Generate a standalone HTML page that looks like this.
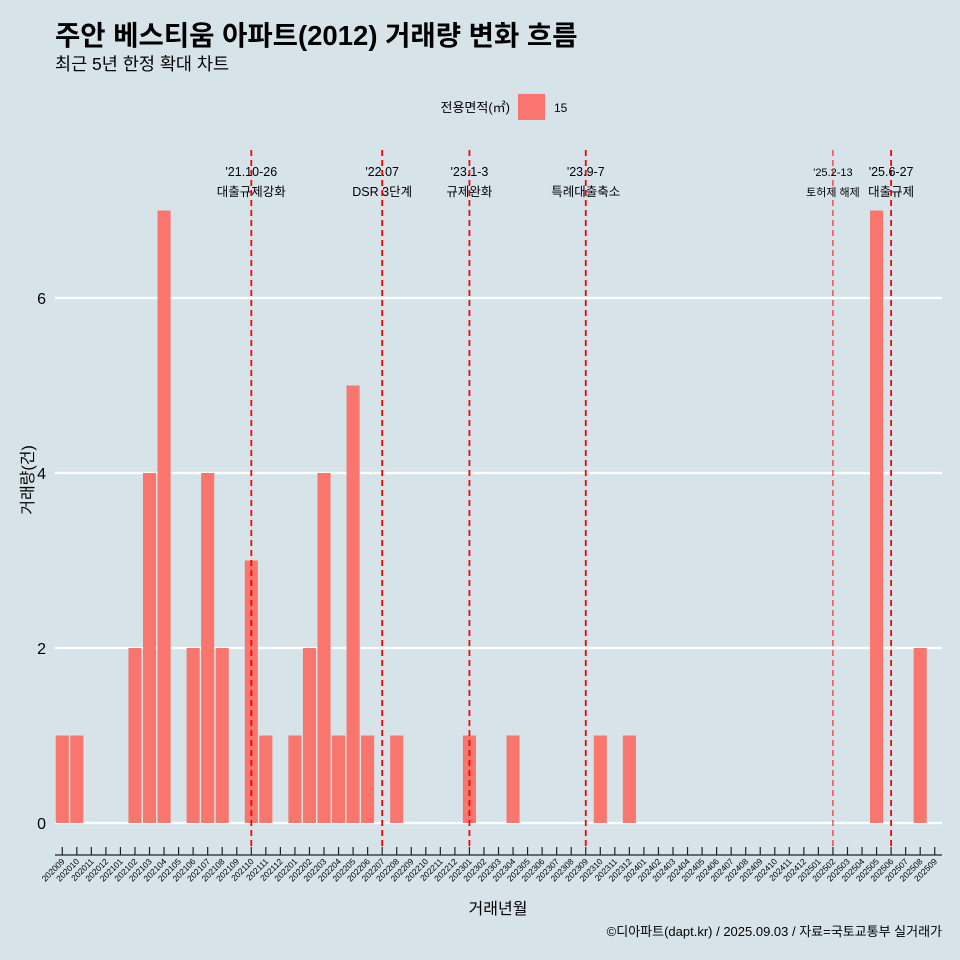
<!DOCTYPE html>
<html><head><meta charset="utf-8"><style>
body{margin:0;background:#d6e4ea;}
svg{display:block;font-family:"Liberation Sans","Noto Sans CJK KR",sans-serif;}
</style></head><body>
<svg id="c" width="960" height="960" viewBox="0 0 960 960">
<rect width="960" height="960" fill="#d6e4ea"/>
<text x="55" y="45" font-size="27.5" font-weight="bold" fill="#000">주안 베스티움 아파트(2012) 거래량 변화 흐름</text>
<text x="55" y="70" font-size="17.5" fill="#000">최근 5년 한정 확대 차트</text>
<g>
<text x="510" y="112" font-size="13" text-anchor="end">전용면적(㎡)</text>
<rect x="518" y="94" width="27" height="26" fill="#f8766d"/>
<text x="554" y="112" font-size="12">15</text>
</g>
<g id="grid"></g><g id="bars"></g><g id="events"></g><g id="xaxis"></g>
<text transform="translate(33,480) rotate(-90)" font-size="16" text-anchor="middle">거래량(건)</text>
<text x="498" y="914" font-size="16" text-anchor="middle">거래년월</text>
<text x="942" y="936" font-size="13" text-anchor="end">©디아파트(dapt.kr) / 2025.09.03 / 자료=국토교통부 실거래가</text>
</svg>
<script>
const months=[];for(let y=2020,m=9;!(y===2025&&m===10);){months.push(''+y+(m<10?'0':'')+m);m++;if(m>12){m=1;y++;}}
const barMonths=["202009","202010","202102","202103","202104","202106","202107","202108","202110","202111","202201","202202","202203","202204","202205","202206","202208","202301","202304","202310","202312","202505","202508"];
const barValues=[1,1,2,4,7,2,4,2,3,1,1,2,4,1,5,1,1,1,1,1,1,7,2];
const yTicks=[0,2,4,6];
const eventMonths=["202110","202207","202301","202309","202502","202506"];
const eventDates=["'21.10-26","'22.07","'23.1-3","'23.9-7","'25.2-13","'25.6-27"];
const eventLabels=["대출규제강화","DSR 3단계","규제완화","특례대출축소","토허제 해제","대출규제"];
const eventThin=[false,false,false,false,true,false];
const NS="http://www.w3.org/2000/svg";
const X0=55,X1=942,step=(X1-X0)/months.length;
const xc=m=>X0+(months.indexOf(m)+0.5)*step;
const y=v=>823-v*87.5;
function mk(tag,attrs,parent,text){const e=document.createElementNS(NS,tag);for(const k in attrs)e.setAttribute(k,attrs[k]);if(text!=null)e.textContent=text;document.getElementById(parent).appendChild(e);return e;}
yTicks.forEach(t=>{
 const l=mk('line',{x1:X0,x2:X1,y1:y(t),y2:y(t),stroke:'#fff','stroke-width':2.2},'grid');
 
 
 const tx=mk('text',{x:46,y:y(t)+6,'font-size':16,'text-anchor':'end'},'grid',t);
 
 
});
barMonths.forEach((m,i)=>{
 const w=step*0.9;
 const r=mk('rect',{x:xc(m)-w/2,y:y(barValues[i]),width:w,height:y(0)-y(barValues[i]),fill:'#f8766d'},'bars');
 
 
});
eventMonths.forEach((m,i)=>{
 const x=xc(m);
 const l=mk('line',{x1:x,x2:x,y1:150,y2:850,stroke:'#ff0000','stroke-width':eventThin[i]?1:1.8,'stroke-dasharray':'6,4'},'events');
 
 
 const fs=eventThin[i]?11:12.5;
 const d=mk('text',{x:x,y:176,'font-size':fs,'text-anchor':'middle'},'events',eventDates[i]);
 
 
 const t=mk('text',{x:x,y:196,'font-size':fs,'text-anchor':'middle'},'events',eventLabels[i]);
 
 
});
const ax=mk('line',{x1:X0,x2:X1,y1:855,y2:855,stroke:'#222','stroke-width':1.2},'xaxis');


months.forEach(m=>{
 const x=xc(m);
 const tk=mk('line',{x1:x,x2:x,y1:847,y2:855,stroke:'#222','stroke-width':1.2},'xaxis');
 
 
 const tx=mk('text',{x:x+3,y:862,'font-size':8.5,'text-anchor':'end',transform:`rotate(-45 ${x+3} 862)`},'xaxis',m);
 
 
});
</script>
</body></html>
